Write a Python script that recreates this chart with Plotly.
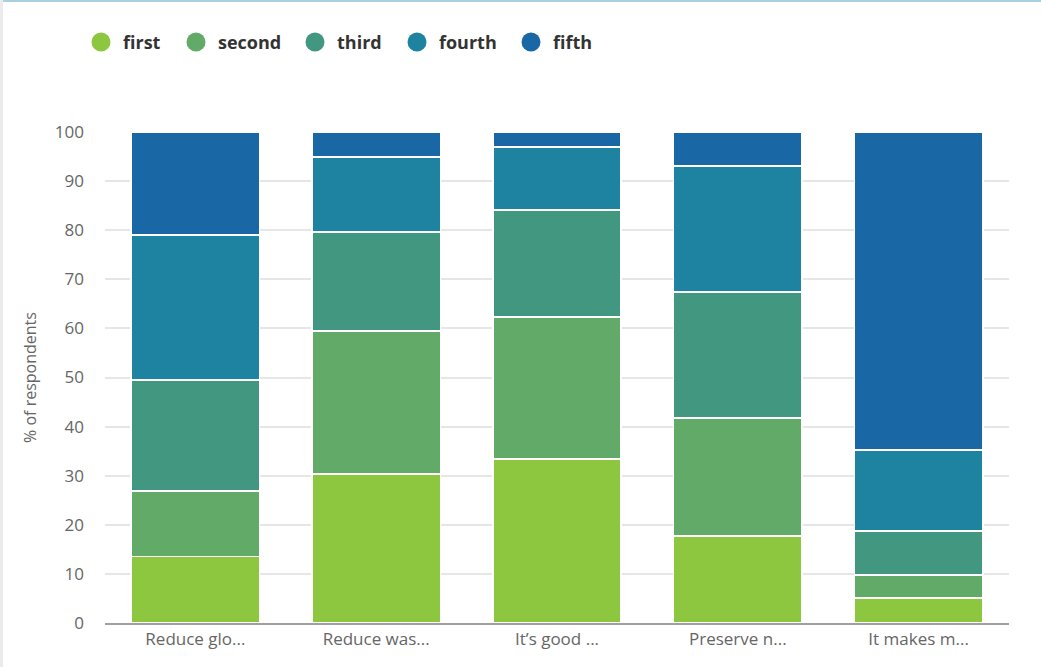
import plotly.graph_objects as go

categories = ["Reduce glo...", "Reduce was...", "It\u2019s good ...", "Preserve n...", "It makes m..."]
series_names = ["first", "second", "third", "fourth", "fifth"]
first = [13.5, 30.3, 33.4, 17.7, 5.1]
second = [13.4, 29.2, 28.9, 24.1, 4.7]
third = [22.6, 20.1, 21.8, 25.6, 8.9]
fourth = [29.5, 15.3, 12.8, 25.7, 16.5]
fifth = [21.0, 5.1, 3.1, 6.9, 64.8]
colors = ["#8dc63f", "#62aa67", "#41977f", "#1e83a0", "#1967a5"]

W, H = 1041, 667
ml, mr, mt, mb = 105, 32, 132, 44
pw, ph = W - ml - mr, H - mt - mb


def px_x(p):
    return (p - ml) / pw


def px_y(p):
    return (H - mb - p) / ph


fig = go.Figure()
for name, vals, col in zip(series_names, [first, second, third, fourth, fifth], colors):
    fig.add_trace(go.Bar(
        name=name, x=categories, y=vals, showlegend=False,
        marker=dict(color=col, line=dict(color="white", width=1.5)),
    ))

# custom legend (circle symbols + bold labels), horizontal row at the top
legend_circle_px = [101, 196, 315, 417, 531]
legend_y_px = 42
shapes = [
    dict(type="rect", xref="paper", yref="paper",
         x0=px_x(0), x1=px_x(W), y0=px_y(2), y1=px_y(0),
         fillcolor="#a9d0e2", line=dict(width=0), layer="below"),
    dict(type="rect", xref="paper", yref="paper",
         x0=px_x(0), x1=px_x(3), y0=px_y(H), y1=px_y(0),
         fillcolor="#ebebeb", line=dict(width=0), layer="below"),
]
annotations = []
for name, col, cx in zip(series_names, colors, legend_circle_px):
    shapes.append(dict(
        type="circle", xref="paper", yref="paper",
        xsizemode="pixel", ysizemode="pixel",
        xanchor=px_x(cx), yanchor=px_y(legend_y_px),
        x0=-9.5, x1=9.5, y0=-9.5, y1=9.5,
        fillcolor=col, line=dict(width=0),
    ))
    annotations.append(dict(
        xref="paper", yref="paper", x=px_x(cx + 20), y=px_y(legend_y_px),
        xanchor="left", yanchor="middle", showarrow=False, text=name,
        font=dict(size=18, color="#333333", family="Open Sans, sans-serif", weight="bold"),
    ))

fig.update_layout(
    width=W, height=H,
    barmode="stack", bargap=0.29,
    plot_bgcolor="white", paper_bgcolor="white",
    margin=dict(l=ml, r=mr, t=mt, b=mb),
    font=dict(family="Open Sans, sans-serif", color="#666666", size=15),
    showlegend=False,
    xaxis=dict(
        showline=True, linecolor="#a0a0a0", linewidth=2,
        tickfont=dict(size=17, color="#666666"),
        ticks="", showgrid=False,
    ),
    yaxis=dict(
        range=[0, 100], dtick=10, showgrid=True, gridcolor="#e6e6e6", gridwidth=1.5,
        zeroline=False, ticks="", ticklabelstandoff=20,
        tickfont=dict(size=17, color="#666666"),
        title=dict(text="% of respondents", font=dict(size=16, color="#666666"), standoff=14),
    ),
    shapes=shapes,
    annotations=annotations,
)

fig.write_html(
    "out.html",
    config={"displayModeBar": False},
    post_script="document.body.style.margin='0';document.body.style.padding='0';",
)
